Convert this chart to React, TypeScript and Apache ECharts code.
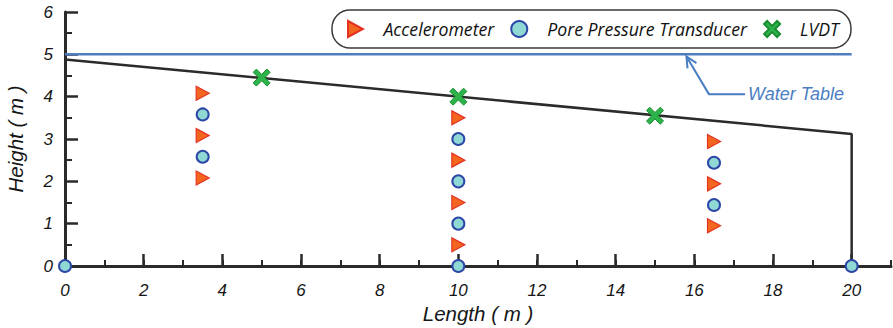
import React, { useEffect, useRef } from "react";
import * as echarts from "echarts";

// ---- data ----
const accelX = [3.5, 3.5, 3.5, 10, 10, 10, 10, 16.5, 16.5, 16.5];
const accelY = [4.08, 3.08, 2.08, 3.5, 2.5, 1.5, 0.5, 2.94, 1.94, 0.95];
const poreX = [3.5, 3.5, 10, 10, 10, 10, 0, 20, 16.5, 16.5];
const poreY = [3.58, 2.58, 3, 2, 1, 0, 0, 0, 2.44, 1.44];
const lvdtX = [5, 10, 15];
const lvdtY = [4.45, 4.0, 3.55];
const groundX = [0, 20, 20];
const groundY = [4.88, 3.12, 0];
const waterX = [0, 20];
const waterY = [5, 5];
const xMajorTicks = [0, 2, 4, 6, 8, 10, 12, 14, 16, 18, 20];
// leader line for the "Water Table" note, in data units: tip, bend, end
const noteX = [15.8, 16.37, 17.29];
const noteY = [4.95, 4.06, 4.06];
const noteText = "Water Table";

const zip = (xs: number[], ys: number[]) => xs.map((x, i) => [x, ys[i]]);

const TRI = "path://M0,0 L13,7 L0,14 Z";
const XSHAPE =
  "path://M0,1.9 L1.9,0 L5,3.1 L8.1,0 L10,1.9 L6.9,5 L10,8.1 L8.1,10 L5,6.9 L1.9,10 L0,8.1 L3.1,5 Z";

const AXIS = "#2a2a2a";
const FONT = "'Liberation Sans', Arial, sans-serif";

export default function App() {
  const ref = useRef<HTMLDivElement>(null);
  useEffect(() => {
    document.body.style.margin = "0";
    const chart = echarts.init(ref.current!, null, { renderer: "svg" });
    const tickLabel = {
      color: "#161616",
      fontFamily: FONT,
      fontStyle: "italic" as const,
      fontSize: 17,
    };
    const nameStyle = {
      color: "#161616",
      fontFamily: FONT,
      fontStyle: "italic" as const,
      fontSize: 20.5,
    };
    chart.setOption({
      animation: false,
      grid: { left: 65, right: 2, top: 12, bottom: 62, outerBoundsMode: "none" },
      legend: {
        data: ["Accelerometer", "Pore Pressure Transducer", "LVDT"],
        left: 332,
        top: 10,
        padding: [10, 12, 10, 15],
        borderColor: "#3a3a3a",
        borderWidth: 1.5,
        borderRadius: 18,
        itemWidth: 16,
        itemHeight: 16,
        itemGap: 16,
        textStyle: {
          color: "#111",
          fontFamily: "'Open Sans', sans-serif",
          fontStyle: "italic",
          fontSize: 17.7,
          padding: [0, 0, 0, 15],
        },
      },
      xAxis: [
        {
          type: "value",
          min: 0,
          max: 21,
          interval: 1,
          position: "bottom",
          axisLine: { show: true, lineStyle: { color: AXIS, width: 3 } },
          axisTick: { show: true, inside: true, length: 6, lineStyle: { color: AXIS, width: 2 } },
          axisLabel: {
            ...tickLabel,
            margin: 16,
            formatter: (v: number) => (v % 2 === 0 && v <= 20 ? String(v) : ""),
          },
          splitLine: { show: false },
          name: "Length ( m )",
          nameLocation: "middle",
          nameGap: 35,
          nameTextStyle: nameStyle,
        },
        {
          type: "value",
          min: 0,
          max: 21,
          interval: 1,
          position: "bottom",
          axisLine: { show: false },
          axisTick: {
            show: true,
            inside: true,
            length: 12,
            customValues: xMajorTicks,
            lineStyle: { color: AXIS, width: 2.5 },
          },
          axisLabel: { show: false },
          splitLine: { show: false },
        },
      ],
      yAxis: {
        type: "value",
        min: 0,
        max: 6,
        interval: 1,
        axisLine: { show: true, lineStyle: { color: AXIS, width: 3 } },
        axisTick: { show: true, inside: true, length: 13, lineStyle: { color: AXIS, width: 2.5 } },
        minorTick: { show: true, splitNumber: 2, length: 7, lineStyle: { color: AXIS, width: 2 } },
        axisLabel: { ...tickLabel, margin: 12 },
        splitLine: { show: false },
        name: "Height ( m )",
        nameLocation: "middle",
        nameGap: 40,
        nameTextStyle: nameStyle,
      },
      series: [
        {
          name: "Water",
          type: "line",
          data: zip(waterX, waterY),
          symbol: "none",
          lineStyle: { color: "#4F7EC0", width: 2.5 },
          z: 3,
        },
        {
          name: "Ground",
          type: "line",
          data: zip(groundX, groundY),
          symbol: "none",
          lineStyle: { color: "#2b2b2b", width: 2.5 },
          z: 3,
        },
        {
          name: "Accelerometer",
          type: "scatter",
          data: zip(accelX, accelY),
          symbol: TRI,
          symbolSize: [13, 14],
          clip: false,
          itemStyle: { color: "#F3661F", borderColor: "#E33222", borderWidth: 1.2, opacity: 1 },
          z: 5,
        },
        {
          name: "Pore Pressure Transducer",
          type: "scatter",
          data: zip(poreX, poreY),
          symbol: "circle",
          symbolSize: 12,
          clip: false,
          itemStyle: { color: "#8FD8D3", borderColor: "#2C47A8", borderWidth: 2, opacity: 1 },
          z: 5,
        },
        {
          name: "LVDT",
          type: "scatter",
          data: zip(lvdtX, lvdtY),
          symbol: XSHAPE,
          symbolSize: 17,
          clip: false,
          itemStyle: { color: "#2DB34A", borderColor: "#1B8E32", borderWidth: 1, opacity: 1 },
          z: 6,
        },
      ],
    });

    // annotation for the water table, placed through the chart's own scales
    const pts = noteX.map((x, i) => chart.convertToPixel({ gridIndex: 0 }, [x, noteY[i]]) as number[]);
    const [tip, bend, end] = pts;
    const dx = bend[0] - tip[0];
    const dy = bend[1] - tip[1];
    const len = Math.hypot(dx, dy);
    const ux = dx / len;
    const uy = dy / len;
    const wing = (ang: number) => {
      const c = Math.cos(ang);
      const s = Math.sin(ang);
      return [tip[0] + 12 * (ux * c - uy * s), tip[1] + 12 * (ux * s + uy * c)];
    };
    const blue = "#4A7EC2";
    chart.setOption({
      graphic: [
        {
          type: "polyline",
          shape: { points: [tip, bend, end] },
          style: { stroke: blue, lineWidth: 2, fill: null },
          z: 10,
        },
        {
          type: "polyline",
          shape: { points: [wing(0.45), tip, wing(-0.45)] },
          style: { stroke: blue, lineWidth: 2, fill: null },
          z: 10,
        },
        {
          type: "text",
          x: end[0] + 3,
          y: end[1],
          style: {
            text: noteText,
            fill: blue,
            font: `italic 18px ${FONT}`,
            verticalAlign: "middle",
            align: "left",
          },
          z: 10,
        },
      ],
    });
    return () => chart.dispose();
  }, []);
  return <div ref={ref} style={{ width: 893, height: 328 }} />;
}
